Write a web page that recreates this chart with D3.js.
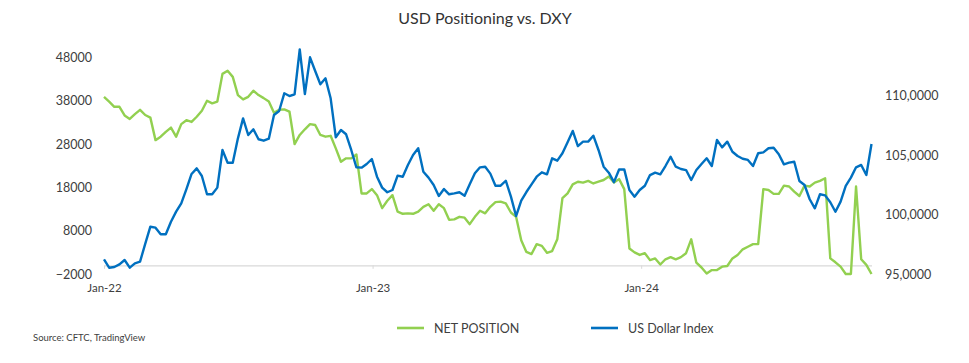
<!DOCTYPE html>
<html>
<head>
<meta charset="utf-8">
<script src="https://cdn.jsdelivr.net/npm/d3@7"></script>
<style>
    body { margin: 0; background: #fff; }
    text { font-family: Lato, "Open Sans", sans-serif; fill: #404040; }
</style>
</head>
<body>
<div id="chart-area"></div>
<script>
// weekly CFTC net position (contracts)
const netPosition = [
    38900, 37800, 36600, 36600, 34600, 33800, 34900, 35900, 34700, 34100,
    28900, 29700, 30800, 31800, 29700, 32600, 33500, 33100, 34300, 35700,
    38000, 37400, 37800, 44200, 44900, 43500, 39300, 38300, 38900, 40300,
    39300, 38600, 37800, 35200, 35900, 36000, 35500, 28000, 30100, 31400,
    32600, 32400, 30100, 29700, 29900, 27000, 23900, 24700, 24700, 25600,
    16600, 16600, 17600, 16200, 13200, 14900, 16200, 12400, 11900, 12000,
    11900, 12400, 13500, 14100, 12600, 14100, 13200, 10500, 10600, 11200,
    11000, 9500, 11200, 12600, 12000, 13500, 14600, 14700, 14300, 12200,
    11200, 5800, 3100, 2600, 4900, 4500, 2900, 3300, 6000, 15500,
    16600, 18700, 19300, 19100, 19500, 18900, 19300, 19700, 20500, 19100,
    19900, 17600, 3900, 3000, 2400, 2800, 1200, 1600, 200, 1400,
    1900, 1400, 1900, 2800, 6000, 600, -500, -1900, -1100, -1100,
    -300, -150, 1600, 2400, 3700, 4300, 4900, 4900, 17600, 17400,
    16500, 16500, 18400, 18200, 17000, 16000, 18400, 18200, 19100, 19500,
    20100, 1600, 700, -300, -2000, -2000, 18200, 1400, 100, -2000
];

// US Dollar Index weekly
const dollarIndex = [
    96.24, 95.53, 95.59, 95.81, 96.18, 95.53, 95.90, 96.04, 97.53, 98.98,
    98.90, 98.34, 98.34, 99.40, 100.25, 100.95, 102.15, 103.42, 103.89, 103.25,
    101.71, 101.71, 102.27, 105.44, 104.37, 104.37, 106.42, 108.10, 106.70, 107.18,
    106.34, 106.22, 106.39, 108.38, 108.72, 110.21, 109.98, 110.13, 113.91, 110.15,
    113.24, 112.09, 110.97, 111.47, 109.79, 106.51, 107.12, 106.76, 105.44, 103.98,
    103.95, 104.26, 104.68, 103.19, 102.27, 101.88, 102.07, 103.28, 103.19, 104.18,
    105.02, 105.58, 103.61, 103.11, 102.49, 101.57, 102.15, 101.71, 101.79, 101.88,
    101.59, 102.55, 103.48, 103.98, 104.03, 103.45, 102.43, 102.43, 102.85, 101.51,
    99.88, 101.17, 101.90, 102.55, 103.19, 103.56, 103.39, 104.74, 104.54, 105.16,
    106.09, 107.04, 105.77, 106.14, 106.14, 106.64, 105.44, 104.03, 103.53, 102.73,
    103.80, 103.81, 102.07, 101.51, 102.07, 102.43, 103.33, 103.53, 103.39, 104.09,
    104.87, 104.03, 103.84, 103.75, 102.91, 103.75, 104.26, 104.74, 104.09, 106.28,
    105.66, 106.14, 105.29, 104.93, 104.70, 104.60, 104.09, 105.16, 105.24, 105.58,
    105.63, 105.08, 104.23, 104.37, 104.45, 102.83, 102.49, 101.29, 100.53, 101.71,
    101.62, 101.04, 100.24, 101.09, 102.41, 103.11, 103.98, 104.18, 103.33, 105.94
];

const firstDate = "2022-01-04";
const xTickDates = ["2022-01-04", "2023-01-04", "2024-01-04"];
const leftTicks = [-2000, 8000, 18000, 28000, 38000, 48000];
const rightTicks = [95, 100, 105, 110];
const seriesNames = ["NET POSITION", "US Dollar Index"];
const seriesColors = ["#92D050", "#0070C0"];

const renderData = () => {
    const w = 969;
    const h = 363;

    const parseDate = d3.timeParse("%Y-%m-%d");
    const start = parseDate(firstDate);
    const dates = netPosition.map((d, i) => d3.timeWeek.offset(start, i));

    const xScale = d3.scaleTime()
        .domain([dates[0], dates[dates.length - 1]])
        .range([104, 871.5]);

    const yLeft = d3.scaleLinear()
        .domain([-2000, 48000])
        .range([274, 57.4]);

    const yRight = d3.scaleLinear()
        .domain([95, 110])
        .range([274, 95.8]);

    const svg = d3.select("#chart-area")
        .append("svg")
        .attr("width", w)
        .attr("height", h);

    svg.append("text")
        .attr("x", 485)
        .attr("y", 24)
        .attr("text-anchor", "middle")
        .style("font-size", "16px")
        .style("fill", "#333")
        .text("USD Positioning vs. DXY");

    // x axis sits on the zero line of the left scale
    const xAxis = d3.axisBottom(xScale)
        .tickValues(xTickDates.map(parseDate))
        .tickFormat(d3.timeFormat("%b-%y"))
        .tickSizeInner(3.5)
        .tickSizeOuter(0)
        .tickPadding(15);

    const gx = svg.append("g")
        .attr("id", "x-axis")
        .attr("transform", "translate(0," + yLeft(0) + ")")
        .call(xAxis);
    gx.select(".domain").attr("stroke", "#d9d9d9").attr("stroke-width", 1.2);
    gx.selectAll(".tick line").attr("stroke", "#d9d9d9");
    gx.selectAll(".tick text").style("font-size", "11.5px").style("fill", "#404040");

    const yAxisLeft = d3.axisLeft(yLeft)
        .tickValues(leftTicks)
        .tickFormat(d3.format("d"))
        .tickSize(0)
        .tickPadding(0);

    const gl = svg.append("g")
        .attr("id", "y-axis")
        .attr("transform", "translate(92,0)")
        .call(yAxisLeft);
    gl.select(".domain").remove();
    gl.selectAll(".tick text").style("font-size", "12.5px").style("fill", "#404040");

    const euro = d3.formatLocale({ decimal: ",", thousands: ".", grouping: [3], currency: ["", ""] });
    const yAxisRight = d3.axisRight(yRight)
        .tickValues(rightTicks)
        .tickFormat(euro.format(".4f"))
        .tickSize(0)
        .tickPadding(0);

    const gr = svg.append("g")
        .attr("id", "y-axis-right")
        .attr("transform", "translate(885,0)")
        .call(yAxisRight);
    gr.select(".domain").remove();
    gr.selectAll(".tick text").style("font-size", "12.5px").style("fill", "#404040");

    const netLine = d3.line()
        .x((d, i) => xScale(dates[i]))
        .y((d) => yLeft(d));

    const dxyLine = d3.line()
        .x((d, i) => xScale(dates[i]))
        .y((d) => yRight(d));

    svg.append("path")
        .datum(netPosition)
        .attr("fill", "none")
        .attr("stroke", seriesColors[0])
        .attr("stroke-width", 2.4)
        .attr("stroke-linejoin", "round")
        .attr("d", netLine);

    svg.append("path")
        .datum(dollarIndex)
        .attr("fill", "none")
        .attr("stroke", seriesColors[1])
        .attr("stroke-width", 2.4)
        .attr("stroke-linejoin", "round")
        .attr("d", dxyLine);

    // legend
    const legendX = [397, 591];
    const legend = svg.append("g").attr("id", "legend");
    seriesNames.forEach((name, i) => {
        legend.append("line")
            .attr("x1", legendX[i])
            .attr("x2", legendX[i] + 27)
            .attr("y1", 328)
            .attr("y2", 328)
            .attr("stroke", seriesColors[i])
            .attr("stroke-width", 2.6);
        legend.append("text")
            .attr("x", legendX[i] + 37)
            .attr("y", 332.5)
            .style("font-size", "12.5px")
            .style("fill", "#404040")
            .text(name);
    });

    svg.append("text")
        .attr("x", 33)
        .attr("y", 341)
        .style("font-size", "9.5px")
        .style("fill", "#404040")
        .text("Source: CFTC, TradingView");
}

renderData();
</script>
</body>
</html>
